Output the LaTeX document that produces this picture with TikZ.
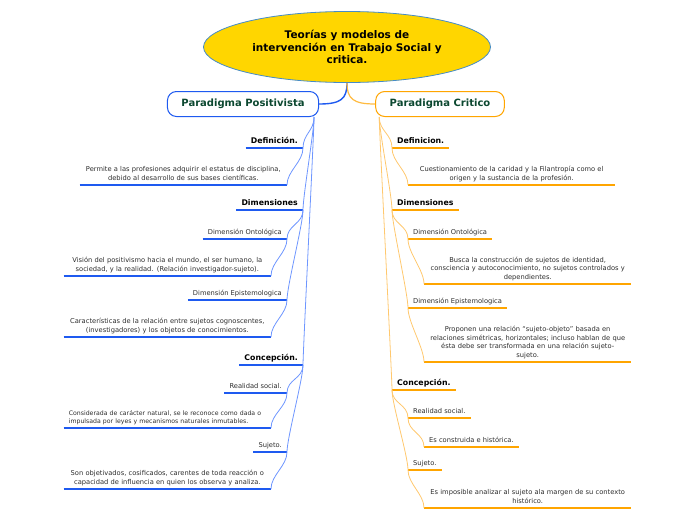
\documentclass[tikz,border=0pt]{standalone}
\usepackage{fontspec}
\setmainfont{DejaVu Sans}
\usetikzlibrary{shapes.geometric}

\definecolor{rootgold}{RGB}{255,214,0}
\definecolor{rootedge}{RGB}{70,140,200}
\definecolor{posblue}{RGB}{30,90,240}
\definecolor{linkblue}{RGB}{110,150,255}
\definecolor{critorange}{RGB}{255,165,0}
\definecolor{linkorange}{RGB}{255,200,110}
\definecolor{maingreen}{RGB}{12,72,48}
\definecolor{textgray}{RGB}{45,45,45}

\begin{document}
\begin{tikzpicture}[
  x=1pt, y=-1pt,
  root/.style={ellipse,draw=rootedge,line width=0.8pt,fill=rootgold,minimum width=287pt,minimum height=71pt,inner sep=0pt,align=center,font=\fontsize{10.5}{12.5}\selectfont\bfseries},
  paradigm/.style={rounded corners=9pt,line width=1pt,fill=white,inner xsep=14pt,minimum height=25pt,text=maingreen,font=\fontsize{10}{12}\selectfont\bfseries},
  item/.style={inner xsep=5pt,inner ysep=1.8pt,text=textgray,execute at end node={\strut}},
  head/.style={item,font=\fontsize{7.8}{9}\selectfont\bfseries,text=black},
  sub/.style={item,font=\fontsize{6.7}{8.6}\selectfont},
  leaf/.style={item,font=\fontsize{6.7}{8.6}\selectfont},
  block/.style={leaf,text width=197pt,align=center},
  ulP/.style={posblue,line width=1.6pt},
  ulC/.style={critorange,line width=1.3pt},
  linkP/.style={linkblue,line width=0.8pt},
  linkC/.style={linkorange,line width=0.8pt},
  sc/.style={to path={.. controls +(0,14) and +(0,-14) .. (\tikztotarget)}}
]
\useasboundingbox (0,0) rectangle (696,520);

\node[root] (theme) at (347,47) {Teorías y modelos de\\intervención en Trabajo Social y\\critica.};
\node[paradigm,draw=posblue] (posit) at (243,104) {Paradigma Positivista};
\node[paradigm,draw=critorange] (crit) at (440,104) {Paradigma Critico};
\draw[posblue,line width=1.4pt] (theme.south) .. controls +(0,16) and +(22,0) .. (posit.east);
\draw[critorange!75,line width=1.2pt] (theme.south) .. controls +(0,16) and +(-22,0) .. (crit.west);

% Paradigma Positivista
\node[head,anchor=south east] (defP) at (303,148) {Definición.};
\node[block,anchor=south east] (defPt) at (287,185) {Permite a las profesiones adquirir el estatus de disciplina,\\debido al desarrollo de sus bases científicas.};
\node[head,anchor=south east] (dimP) at (303,210) {Dimensiones};
\node[sub,anchor=south east] (ontP) at (287,239) {Dimensión Ontológica};
\node[block,anchor=south east] (ontPt) at (271,276) {Visión del positivismo hacia el mundo, el ser humano, la\\sociedad, y la realidad. (Relación investigador-sujeto).};
\node[sub,anchor=south east] (epiP) at (287,300) {Dimensión Epistemologica};
\node[block,anchor=south east] (epiPt) at (271,337) {Características de la relación entre sujetos cognoscentes,\\(investigadores) y los objetos de conocimientos.};
\node[head,anchor=south east] (conP) at (303,365) {Concepción.};
\node[sub,anchor=south east] (realP) at (287,393) {Realidad social.};
\node[block,align=left,anchor=south east,font=\fontsize{6.2}{8}\selectfont] (realPt) at (271,428) {Considerada de carácter natural, se le reconoce como dada o\\impulsada por leyes y mecanismos naturales inmutables.};
\node[sub,anchor=south east] (sujP) at (287,452) {Sujeto.};
\node[block,anchor=south east] (sujPt) at (271,489) {Son objetivados, cosificados, carentes de toda reacción o\\capacidad de influencia en quien los observa y analiza.};

\draw[ulP] (defP.south west) -- (defP.south east);
\draw[ulP] (defPt.south west) -- (defPt.south east);
\draw[ulP] (dimP.south west) -- (dimP.south east);
\draw[ulP] (ontP.south west) -- (ontP.south east);
\draw[ulP] (ontPt.south west) -- (ontPt.south east);
\draw[ulP] (epiP.south west) -- (epiP.south east);
\draw[ulP] (epiPt.south west) -- (epiPt.south east);
\draw[ulP] (conP.south west) -- (conP.south east);
\draw[ulP] (realP.south west) -- (realP.south east);
\draw[ulP] (realPt.south west) -- (realPt.south east);
\draw[ulP] (sujP.south west) -- (sujP.south east);
\draw[ulP] (sujPt.south west) -- (sujPt.south east);

\draw[linkP] ([xshift=-5pt]posit.south east) to[sc] (defP.south east);
\draw[linkP] ([xshift=-5pt]posit.south east) to[sc] (dimP.south east);
\draw[linkP] ([xshift=-5pt]posit.south east) to[sc] (conP.south east);
\draw[linkP] (defP.south east) to[sc] (defPt.south east);
\draw[linkP] (dimP.south east) to[sc] (ontP.south east);
\draw[linkP] (dimP.south east) to[sc] (epiP.south east);
\draw[linkP] (ontP.south east) to[sc] (ontPt.south east);
\draw[linkP] (epiP.south east) to[sc] (epiPt.south east);
\draw[linkP] (conP.south east) to[sc] (realP.south east);
\draw[linkP] (conP.south east) to[sc] (sujP.south east);
\draw[linkP] (realP.south east) to[sc] (realPt.south east);
\draw[linkP] (sujP.south east) to[sc] (sujPt.south east);

% Paradigma Critico
\node[head,anchor=south west] (defC) at (392,148) {Definicion.};
\node[block,anchor=south west] (defCt) at (408,185) {Cuestionamiento de la caridad y la Filantropía como el\\origen y la sustancia de la profesión.};
\node[head,anchor=south west] (dimC) at (392,210) {Dimensiones};
\node[sub,anchor=south west] (ontC) at (408,239) {Dimensión Ontológica};
\node[block,anchor=south west] (ontCt) at (424,284) {Busca la construcción de sujetos de identidad,\\consciencia y autoconocimiento, no sujetos controlados y\\dependientes.};
\node[sub,anchor=south west] (epiC) at (408,308) {Dimensión Epistemologica};
\node[block,anchor=south west] (epiCt) at (424,362) {Proponen una relación “sujeto-objeto” basada en\\relaciones simétricas, horizontales; incluso hablan de que\\ésta debe ser transformada en una relación sujeto-\\sujeto.};
\node[head,anchor=south west] (conC) at (392,390) {Concepción.};
\node[sub,anchor=south west] (realC) at (408,418) {Realidad social.};
\node[leaf,anchor=south west] (realCt) at (424,447) {Es construida e histórica.};
\node[sub,anchor=south west] (sujC) at (408,470) {Sujeto.};
\node[block,anchor=south west] (sujCt) at (424,508) {Es imposible analizar al sujeto ala margen de su contexto\\histórico.};

\draw[ulC] (defC.south west) -- (defC.south east);
\draw[ulC] (defCt.south west) -- (defCt.south east);
\draw[ulC] (dimC.south west) -- (dimC.south east);
\draw[ulC] (ontC.south west) -- (ontC.south east);
\draw[ulC] (ontCt.south west) -- (ontCt.south east);
\draw[ulC] (epiC.south west) -- (epiC.south east);
\draw[ulC] (epiCt.south west) -- (epiCt.south east);
\draw[ulC] (conC.south west) -- (conC.south east);
\draw[ulC] (realC.south west) -- (realC.south east);
\draw[ulC] (realCt.south west) -- (realCt.south east);
\draw[ulC] (sujC.south west) -- (sujC.south east);
\draw[ulC] (sujCt.south west) -- (sujCt.south east);

\draw[linkC] ([xshift=4pt]crit.south west) to[sc] (defC.south west);
\draw[linkC] ([xshift=4pt]crit.south west) to[sc] (dimC.south west);
\draw[linkC] ([xshift=4pt]crit.south west) to[sc] (conC.south west);
\draw[linkC] (defC.south west) to[sc] (defCt.south west);
\draw[linkC] (dimC.south west) to[sc] (ontC.south west);
\draw[linkC] (dimC.south west) to[sc] (epiC.south west);
\draw[linkC] (ontC.south west) to[sc] (ontCt.south west);
\draw[linkC] (epiC.south west) to[sc] (epiCt.south west);
\draw[linkC] (conC.south west) to[sc] (realC.south west);
\draw[linkC] (conC.south west) to[sc] (sujC.south west);
\draw[linkC] (realC.south west) to[sc] (realCt.south west);
\draw[linkC] (sujC.south west) to[sc] (sujCt.south west);
\end{tikzpicture}
\end{document}
